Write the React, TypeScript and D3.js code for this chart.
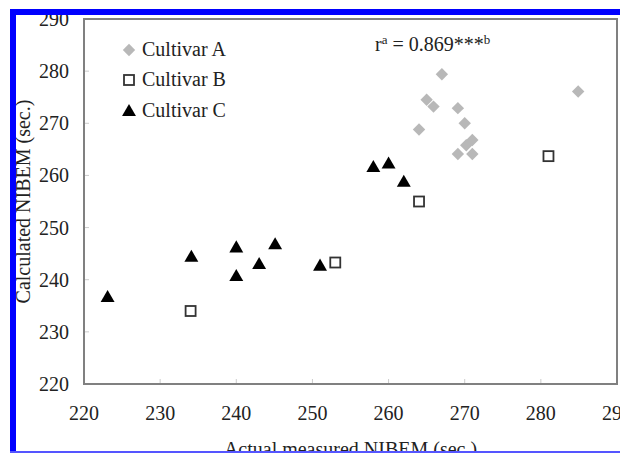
import React from "react";
import * as d3 from "d3";

const xTicks = [220, 230, 240, 250, 260, 270, 280, 290];
const yTicks = [220, 230, 240, 250, 260, 270, 280, 290];

const cultivarA_x = [267.0, 284.9, 265.0, 265.9, 269.1, 264.0, 270.0, 271.0, 270.2, 269.1, 271.0];
const cultivarA_y = [279.4, 276.1, 274.5, 273.2, 272.9, 268.8, 270.0, 266.8, 265.8, 264.1, 264.1];

const cultivarB_x = [281.0, 264.0, 253.0, 234.0];
const cultivarB_y = [263.7, 255.0, 243.3, 234.0];

const cultivarC_x = [223.1, 234.1, 240.0, 240.0, 243.0, 245.1, 251.0, 258.0, 260.0, 262.0];
const cultivarC_y = [236.7, 244.4, 246.2, 240.7, 243.0, 246.8, 242.7, 261.6, 262.3, 258.8];

const legendLabels = ["Cultivar A", "Cultivar B", "Cultivar C"];

const W = 620;
const H = 453;
const plot = { left: 84, right: 617, top: 19, bottom: 384 };
const FONT = "'Liberation Serif', 'Times New Roman', serif";

const diamond = d3.symbol().type(d3.symbolDiamond2).size(98)();
const triangle = d3.symbol().type(d3.symbolTriangle).size(84)();

function Marker({ kind, x, y }: { kind: number; x: number; y: number }) {
  if (kind === 0)
    return <path d={diamond as string} transform={`translate(${x},${y})`} fill="#b8b8b8" />;
  if (kind === 1)
    return (
      <rect x={x - 5} y={y - 5} width={10} height={10} fill="#fff" stroke="#333" strokeWidth={1.8} />
    );
  return <path d={triangle as string} transform={`translate(${x},${y + 1})`} fill="#000" />;
}

export default function App() {
  const x = d3.scaleLinear().domain([220, 290]).range([plot.left, plot.right]);
  const y = d3.scaleLinear().domain([220, 290]).range([plot.bottom, plot.top]);

  const series = [
    { xs: cultivarA_x, ys: cultivarA_y },
    { xs: cultivarB_x, ys: cultivarB_y },
    { xs: cultivarC_x, ys: cultivarC_y },
  ];

  return (
    <svg
      width={W}
      height={H}
      style={{ position: "absolute", left: 0, top: 0, background: "#fff" }}
      fontFamily={FONT}
    >
      <rect x={0} y={0} width={W} height={H} fill="#fff" />
      {xTicks.map((t) => (
        <line key={"xt" + t} x1={x(t)} x2={x(t)} y1={plot.bottom} y2={plot.bottom - 5} stroke="#ccc" strokeWidth={1} />
      ))}
      {yTicks.map((t) => (
        <line key={"yt" + t} x1={plot.left} x2={plot.left + 5} y1={y(t)} y2={y(t)} stroke="#ccc" strokeWidth={1} />
      ))}
      <rect
        x={plot.left}
        y={plot.top}
        width={plot.right - plot.left}
        height={plot.bottom - plot.top}
        fill="none"
        stroke="#808080"
        strokeWidth={2}
      />
      {yTicks.map((t) => (
        <text key={"yl" + t} x={69} y={y(t)} dy="0.35em" textAnchor="end" fontSize={20} fill="#222">
          {t}
        </text>
      ))}
      {xTicks.map((t) => (
        <text key={"xl" + t} x={x(t)} y={420} textAnchor="middle" fontSize={20} fill="#222">
          {t}
        </text>
      ))}
      <text x={(plot.left + plot.right) / 2} y={456} textAnchor="middle" fontSize={20} fill="#222">
        Actual measured NIBEM (sec.)
      </text>
      <text
        transform={`translate(30,${(plot.top + plot.bottom) / 2}) rotate(-90)`}
        textAnchor="middle"
        fontSize={20}
        fill="#222"
      >
        Calculated NIBEM (sec.)
      </text>
      {series.map((s, k) =>
        s.xs.map((v, i) => <Marker key={k + "-" + i} kind={k} x={x(v)} y={y(s.ys[i])} />)
      )}
      {legendLabels.map((l, i) => {
        const cy = [50, 80, 111][i];
        return (
          <g key={l}>
            <Marker kind={i} x={129} y={cy} />
            <text x={142} y={cy + 6} fontSize={20} fill="#222">
              {l}
            </text>
          </g>
        );
      })}
      <text x={375} y={51} fontSize={20} fill="#222">
        r<tspan dy={-7} fontSize={13}>a</tspan>
        <tspan dy={7}> = 0.869***</tspan>
        <tspan dy={-7} fontSize={13}>b</tspan>
      </text>
      <rect x={10} y={9} width={W - 10} height={6} fill="#0000ff" />
      <rect x={10} y={9} width={6} height={H - 9} fill="#0000ff" />
      <rect x={10} y={451} width={W - 10} height={2} fill="#5555ff" />
    </svg>
  );
}
